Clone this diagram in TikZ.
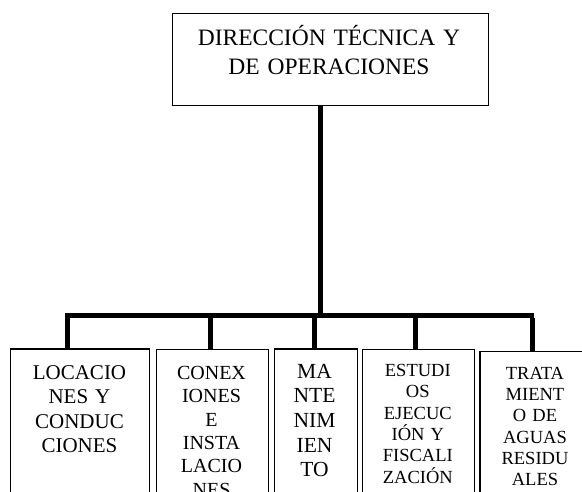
\documentclass[tikz,border=0pt]{standalone}
\usepackage{fontspec}
\setmainfont{Liberation Serif}
\begin{document}
\begin{tikzpicture}[x=1pt,y=-1pt,
  box/.style={draw=black, line width=1.3pt, inner sep=0pt, anchor=north west},
  lbl/.style={anchor=base, align=center, text width=150pt, inner sep=0pt},
  conn/.style={line width=5pt, black},
  shade/.style={line width=5pt, black!40, shift={(1.5,3)}}]
\useasboundingbox (0,0) rectangle (582,492);
\clip (0,0) rectangle (582,492);

% top box
\node[box, minimum width=316pt, minimum height=92pt] (top) at (172,13) {};
\node[lbl, text width=320pt, font=\fontsize{23.5}{28.5}\selectfont] (toptxt) at (329,46) {DIRECCIÓN TÉCNICA Y\\DE OPERACIONES};

% bottom boxes
\node[box, minimum width=139pt, minimum height=200pt] (b1) at (10,348.3) {};
\node[box, minimum width=112pt, minimum height=200pt] (b2) at (156,349) {};
\node[box, minimum width=83pt, minimum height=200pt] (b3) at (273.5,348.3) {};
\node[box, minimum width=112.3pt, minimum height=200pt] (b4) at (361.7,349) {};
\node[box, minimum width=112pt, minimum height=200pt] (b5) at (479.3,350.7) {};

\node[lbl, font=\fontsize{21}{24.4}\selectfont] (t1) at (79.5,379.3) {LOCACIO\\NES Y\\CONDUC\\CIONES};
\node[lbl, font=\fontsize{20}{23.4}\selectfont] (t2) at (211.5,379.3) {CONEX\\IONES\\E\\INSTA\\LACIO\\NES};
\node[lbl, font=\fontsize{21.5}{24.6}\selectfont] (t3) at (314.5,378.3) {MA\\NTE\\NIM\\IEN\\TO};
\node[lbl, font=\fontsize{18.5}{21.3}\selectfont] (t4) at (417.8,376.7) {ESTUDI\\OS\\EJECUC\\IÓN Y\\FISCALI\\ZACIÓN};
\node[lbl, font=\fontsize{18.5}{21.3}\selectfont] (t5) at (535,379.3) {TRATA\\MIENT\\O DE\\AGUAS\\RESIDU\\ALES};

% connector coordinates
\coordinate (j) at (320.5,315.5);
\coordinate (bl) at (65,315.5);
\coordinate (br) at (534,315.5);
\coordinate (d1) at (67,318.5);
\coordinate (d2) at (210.8,318.5);
\coordinate (d3) at (314.2,318.5);
\coordinate (d4) at (415,318.5);
\coordinate (d5) at (532.5,318.5);

% shadows
\draw[shade] (j |- top.south) -- (j);
\draw[shade] (bl) -- (br);
\foreach \d/\b in {d1/b1,d2/b2,d3/b3,d4/b4,d5/b5}
  \draw[shade] (\d) -- (\d |- \b.north);

% connectors
\draw[conn] (j |- top.south) -- (j);
\draw[conn] (bl) -- (br);
\foreach \d/\b in {d1/b1,d2/b2,d3/b3,d4/b4,d5/b5}
  \draw[conn] (\d) -- (\d |- \b.north);
\end{tikzpicture}
\end{document}
